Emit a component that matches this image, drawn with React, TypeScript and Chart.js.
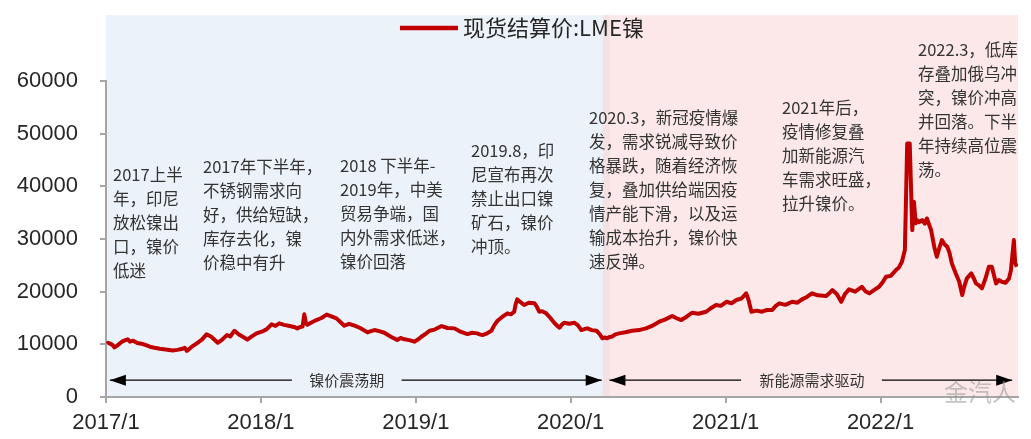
import React, { useEffect, useRef } from "react";
import { Chart, registerables } from "chart.js";

Chart.register(...registerables);

const seriesName = "现货结算价:LME镍";

const dates = [
  "2017-01-03", "2017-01-06", "2017-01-10", "2017-01-16", "2017-01-21", "2017-01-28", "2017-02-08", "2017-02-15",
  "2017-02-22", "2017-02-27", "2017-03-04", "2017-03-14", "2017-03-27", "2017-04-04", "2017-04-13", "2017-04-24",
  "2017-05-06", "2017-05-20", "2017-06-06", "2017-06-17", "2017-06-29", "2017-07-04", "2017-07-09", "2017-07-20",
  "2017-08-02", "2017-08-14", "2017-08-25", "2017-09-05", "2017-09-21", "2017-10-01", "2017-10-12", "2017-10-20",
  "2017-10-30", "2017-11-05", "2017-11-12", "2017-11-22", "2017-11-30", "2017-12-10", "2017-12-21", "2018-01-03",
  "2018-01-14", "2018-01-20", "2018-01-26", "2018-02-05", "2018-02-14", "2018-02-25", "2018-03-08", "2018-03-18",
  "2018-03-26", "2018-04-02", "2018-04-08", "2018-04-12", "2018-04-16", "2018-04-19", "2018-04-30", "2018-05-10",
  "2018-05-22", "2018-06-04", "2018-06-15", "2018-06-27", "2018-07-05", "2018-07-15", "2018-07-26", "2018-08-09",
  "2018-08-22", "2018-09-09", "2018-09-17", "2018-09-25", "2018-10-06", "2018-10-18", "2018-11-02", "2018-11-18",
  "2018-11-26", "2018-12-05", "2018-12-16", "2018-12-28", "2019-01-06", "2019-01-14", "2019-01-24", "2019-02-03",
  "2019-02-15", "2019-03-01", "2019-03-15", "2019-04-01", "2019-04-15", "2019-05-01", "2019-05-12", "2019-05-24",
  "2019-05-30", "2019-06-06", "2019-06-17", "2019-06-27", "2019-07-04", "2019-07-11", "2019-07-22", "2019-08-04",
  "2019-08-12", "2019-08-20", "2019-08-23", "2019-08-27", "2019-09-03", "2019-09-13", "2019-09-24", "2019-10-07",
  "2019-10-12", "2019-10-18", "2019-10-25", "2019-11-04", "2019-11-14", "2019-11-23", "2019-11-29", "2019-12-05",
  "2019-12-10", "2019-12-16", "2019-12-28", "2020-01-10", "2020-01-18", "2020-01-26", "2020-02-03", "2020-02-10",
  "2020-02-20", "2020-03-01", "2020-03-08", "2020-03-15", "2020-03-20", "2020-03-26", "2020-04-01", "2020-04-08",
  "2020-04-15", "2020-04-24", "2020-05-08", "2020-05-24", "2020-06-10", "2020-06-26", "2020-07-10", "2020-07-27",
  "2020-08-10", "2020-08-27", "2020-09-06", "2020-09-18", "2020-09-30", "2020-10-13", "2020-10-28", "2020-11-16",
  "2020-11-26", "2020-12-09", "2020-12-20", "2021-01-03", "2021-01-15", "2021-01-26", "2021-02-08", "2021-02-19",
  "2021-02-24", "2021-03-01", "2021-03-13", "2021-03-26", "2021-04-06", "2021-04-19", "2021-04-28", "2021-05-06",
  "2021-05-20", "2021-06-06", "2021-06-18", "2021-06-29", "2021-07-10", "2021-07-22", "2021-08-05", "2021-08-25",
  "2021-09-02", "2021-09-09", "2021-09-20", "2021-09-30", "2021-10-08", "2021-10-18", "2021-11-02", "2021-11-18",
  "2021-11-26", "2021-12-05", "2021-12-16", "2021-12-28", "2022-01-06", "2022-01-14", "2022-01-25", "2022-02-07",
  "2022-02-14", "2022-02-21", "2022-02-28", "2022-03-03", "2022-03-09", "2022-03-15", "2022-03-19", "2022-03-23",
  "2022-03-26", "2022-04-01", "2022-04-08", "2022-04-14", "2022-04-19", "2022-04-29", "2022-05-06", "2022-05-12",
  "2022-05-18", "2022-05-24", "2022-05-30", "2022-06-06", "2022-06-11", "2022-06-17", "2022-06-26", "2022-07-04",
  "2022-07-11", "2022-07-16", "2022-07-22", "2022-08-02", "2022-08-08", "2022-08-13", "2022-08-20", "2022-08-27",
  "2022-09-05", "2022-09-13", "2022-09-20", "2022-09-30", "2022-10-06", "2022-10-13", "2022-10-22", "2022-10-30",
  "2022-11-04", "2022-11-11", "2022-11-14", "2022-11-18",
];

const prices = [
  10100, 10300, 10150, 9900, 9400, 9800, 10500, 10750,
  10950, 10500, 10700, 10250, 10060, 9850, 9550, 9350,
  9150, 9000, 8850, 8950, 9150, 9350, 8750, 9500,
  10190, 10900, 11900, 11500, 10300, 10900, 11760, 11500,
  12580, 12200, 11760, 11300, 10900, 11500, 12080, 12400,
  12840, 13300, 13790, 13500, 13980, 13700, 13470, 13300,
  13030, 13300, 13400, 15700, 14000, 13700, 14200, 14610,
  15000, 15650, 15300, 14930, 14300, 13530, 13900, 13550,
  13100, 12270, 12500, 12710, 12500, 12200, 11500, 10820,
  11200, 10950, 10800, 10500, 10900, 11440, 12000, 12580,
  12800, 13470, 13100, 13030, 12400, 11950, 12200, 12080,
  11900, 11760, 12100, 12580, 13700, 14480, 15200, 15880,
  15700, 16190, 17500, 18540, 18100, 17460, 17900, 17780,
  17200, 16190, 16300, 15880, 15000, 14100, 13600, 13150,
  13700, 14100, 13900, 14100, 13600, 12710, 12900, 13030,
  12700, 12580, 12000, 11140, 11300, 11140, 11400, 11500,
  11900, 12080, 12300, 12580, 12700, 13030, 13500, 14290,
  14700, 15370, 15000, 14610, 15200, 16000, 15800, 16190,
  16800, 17460, 17300, 18080, 17800, 18410, 18700, 19680,
  18600, 16190, 16400, 16190, 16500, 16510, 17300, 17780,
  17500, 18080, 17900, 18540, 19000, 19680, 19300, 19160,
  19700, 20300, 19500, 18080, 19500, 20440, 20000, 20930,
  20100, 19680, 20300, 20930, 21800, 22830, 23000, 24100,
  24600, 25680, 27900, 48140, 48140, 31690, 37060, 33000,
  33590, 33200, 33590, 32900, 33900, 31690, 28500, 26620,
  28300, 29790, 29000, 28520, 27500, 25370, 23500, 21880,
  19350, 21000, 22520, 23470, 22500, 21570, 21200, 20620,
  22500, 24730, 24730, 21570, 22200, 21880, 21700, 22520,
  24000, 29790, 25500, 24730,
];

const xTickLabels = ["2017/1", "2018/1", "2019/1", "2020/1", "2021/1", "2022/1"];
const yTickValues = [0, 10000, 20000, 30000, 40000, 50000, 60000];
const phaseNames = ["镍价震荡期", "新能源需求驱动"];
const phaseSplitDate = "2020-03-25";

const note2017a = ["2017上半", "年，印尼", "放松镍出", "口，镍价", "低迷"];
const note2017b = ["2017年下半年，", "不锈钢需求向", "好，供给短缺，", "库存去化，镍", "价稳中有升"];
const note2018 = ["2018 下半年-", "2019年，中美", "贸易争端，国", "内外需求低迷，", "镍价回落"];
const note2019 = ["2019.8，印", "尼宣布再次", "禁止出口镍", "矿石，镍价", "冲顶。"];
const note2020 = [
  "2020.3，新冠疫情爆", "发，需求锐减导致价", "格暴跌，随着经济恢", "复，叠加供给端因疫",
  "情产能下滑，以及运", "输成本抬升，镍价快", "速反弹。",
];
const note2021 = ["2021年后，", "疫情修复叠", "加新能源汽", "车需求旺盛，", "拉升镍价。"];
const note2022 = ["2022.3，低库", "存叠加俄乌冲", "突，镍价冲高", "并回落。下半", "年持续高位震", "荡。"];
const watermark = "金汽人";

function monthOffset(d: string): number {
  const [y, m, day] = d.split("-").map(Number);
  return (y - 2017) * 12 + (m - 1) + (day - 1) / 30.44;
}

const LINE_COLOR = "#C00000";
const AXIS_COLOR = "#A6A6A6";
const TEXT_COLOR = "#333333";
const CJK = '"Noto Sans CJK SC", "Noto Sans", sans-serif';
const LATIN = '"Liberation Sans", Arial, sans-serif';

export default function App() {
  const ref = useRef<HTMLCanvasElement | null>(null);

  useEffect(() => {
    if (!ref.current) return;
    const points = dates.map((d, i) => ({ x: monthOffset(d), y: prices[i] }));
    const split = monthOffset(phaseSplitDate);

    const decor = {
      id: "decor",
      beforeDraw(chart: any) {
        const { ctx, chartArea, scales } = chart;
        const xs = scales.x;
        const ys = scales.y;
        const top = ys.getPixelForValue(72500);
        const bottom = chartArea.bottom;
        const sx = xs.getPixelForValue(split);
        ctx.save();
        ctx.fillStyle = "#ffffff";
        ctx.fillRect(0, 0, chart.width, chart.height);
        ctx.fillStyle = "#ECF2FA";
        ctx.fillRect(chartArea.left, top, sx - chartArea.left, bottom - top);
        ctx.fillStyle = "#FDE8E9";
        ctx.fillRect(sx, top, chartArea.right - sx, bottom - top);
        ctx.fillStyle = "#F4E1E3";
        ctx.fillRect(sx - 4, top, 7, bottom - top);
        ctx.restore();
      },
      afterDatasetsDraw(chart: any) {
        const { ctx, scales } = chart;
        const xs = scales.x;
        const ys = scales.y;
        const ay = ys.getPixelForValue(3200);
        const arrow = (x1: number, x2: number, head: "left" | "right") => {
          ctx.beginPath();
          ctx.moveTo(x1, ay);
          ctx.lineTo(x2, ay);
          ctx.strokeStyle = "#000";
          ctx.lineWidth = 1.3;
          ctx.stroke();
          const tip = head === "left" ? x1 : x2;
          const dir = head === "left" ? 1 : -1;
          ctx.beginPath();
          ctx.moveTo(tip, ay);
          ctx.lineTo(tip + dir * 16, ay - 5.5);
          ctx.lineTo(tip + dir * 16, ay + 5.5);
          ctx.closePath();
          ctx.fillStyle = "#000";
          ctx.fill();
        };
        ctx.save();
        arrow(xs.getPixelForValue(0.3), xs.getPixelForValue(14.4), "left");
        arrow(xs.getPixelForValue(22.9), xs.getPixelForValue(38.4), "right");
        arrow(xs.getPixelForValue(39.0), xs.getPixelForValue(49.2), "left");
        arrow(xs.getPixelForValue(60.1), xs.getPixelForValue(70.2), "right");
        ctx.font = `15px ${CJK}`;
        ctx.fillStyle = TEXT_COLOR;
        ctx.textAlign = "center";
        ctx.textBaseline = "middle";
        ctx.fillText(phaseNames[0], xs.getPixelForValue(18.65), ay);
        ctx.fillText(phaseNames[1], xs.getPixelForValue(54.7), ay);
        ctx.restore();
      },
      afterDraw(chart: any) {
        const { ctx } = chart;
        ctx.save();
        // legend
        ctx.beginPath();
        ctx.moveTo(400, 28);
        ctx.lineTo(458, 28);
        ctx.strokeStyle = LINE_COLOR;
        ctx.lineWidth = 4.5;
        ctx.stroke();
        ctx.font = `22px ${CJK}`;
        ctx.fillStyle = "#262626";
        ctx.textAlign = "left";
        ctx.textBaseline = "middle";
        ctx.fillText(seriesName, 463, 28);

        // annotations
        ctx.font = `16.5px ${CJK}`;
        ctx.fillStyle = TEXT_COLOR;
        const block = (lines: string[], x: number, y: number) => {
          lines.forEach((t, i) => ctx.fillText(t, x, y + i * 24));
        };
        block(note2017a, 113, 175);
        block(note2017b, 203, 167);
        block(note2018, 340, 166);
        block(note2019, 471, 151);
        block(note2020, 589, 118);
        block(note2021, 782, 108);
        block(note2022, 918, 50);

        // watermark
        ctx.font = `24px ${CJK}`;
        ctx.fillStyle = "rgba(150,150,150,0.55)";
        ctx.fillText(watermark, 944, 392);
        ctx.restore();
      },
    };

    const chart = new Chart(ref.current, {
      type: "line",
      data: {
        datasets: [
          {
            label: seriesName,
            data: points,
            borderColor: LINE_COLOR,
            backgroundColor: LINE_COLOR,
            borderWidth: 4,
            pointRadius: 0,
            tension: 0,
            borderJoinStyle: "round",
          },
        ],
      },
      options: {
        responsive: false,
        animation: false,
        events: [],
        layout: { padding: { top: 81, right: 13, left: 0, bottom: 0 } },
        plugins: { legend: { display: false }, tooltip: { enabled: false } },
        scales: {
          x: {
            type: "linear",
            min: 0,
            max: 70.65,
            afterBuildTicks: (s: any) => {
              s.ticks = xTickLabels.map((_, i) => ({ value: i * 12 }));
            },
            afterFit: (s: any) => {
              s.height = 42;
            },
            ticks: {
              callback: (v: any) => xTickLabels[Math.round(Number(v) / 12)] ?? "",
              font: { family: LATIN, size: 22 },
              color: "#262626",
              padding: 7,
              maxRotation: 0,
              autoSkip: false,
            },
            grid: { drawOnChartArea: false, drawTicks: true, tickLength: 6, color: AXIS_COLOR, lineWidth: 2 },
            border: { display: true, color: AXIS_COLOR, width: 2 },
          },
          y: {
            min: 0,
            max: 60000,
            afterBuildTicks: (s: any) => {
              s.ticks = yTickValues.map((v) => ({ value: v }));
            },
            afterFit: (s: any) => {
              s.width = 106;
            },
            ticks: {
              callback: (v: any) => String(v),
              font: { family: LATIN, size: 22 },
              color: "#262626",
              padding: 22,
            },
            grid: { drawOnChartArea: false, drawTicks: true, tickLength: 6, color: AXIS_COLOR, lineWidth: 2 },
            border: { display: true, color: AXIS_COLOR, width: 2 },
          },
        },
      },
      plugins: [decor],
    });
    return () => chart.destroy();
  }, []);

  return (
    <div style={{ position: "fixed", left: 0, top: 0, width: 1031, height: 439, background: "#fff" }}>
      <canvas ref={ref} width={1031} height={439} style={{ width: 1031, height: 439, display: "block" }} />
    </div>
  );
}
